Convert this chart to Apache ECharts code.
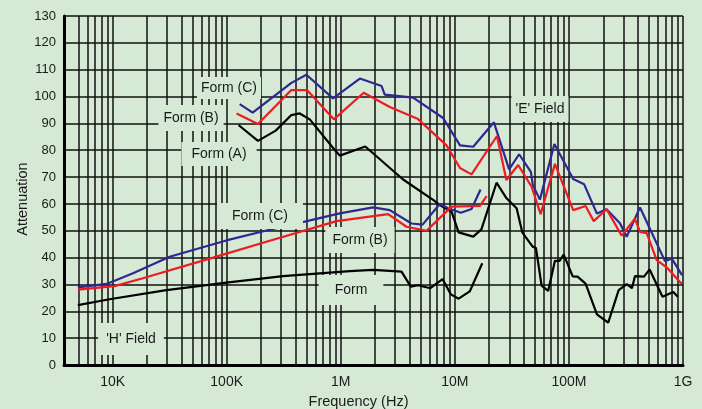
<!DOCTYPE html>
<html>
<head>
<meta charset="utf-8">
<script src="https://cdn.jsdelivr.net/npm/echarts@6/dist/echarts.min.js"></script>
<style>
html,body{margin:0;padding:0;background:#d6e9d5;}
#c{width:702px;height:409px;}
</style>
</head>
<body>
<div id="c"></div>
<script>
// ---- data (frequency in Hz, attenuation in dB) ----
const tickLabels = ['10K','100K','1M','10M','100M','1G'];
const tickExponents = [4,5,6,7,8,9];
const minorMultipliers = [2,3,4,5,6,7,8,9];

const formC_E_freq = [1.30e5,1.69e5,3.69e5,5.0e5,8.56e5,1.47e6,2.28e6,2.43e6,4.31e6,7.89e6,1.11e7,1.45e7,2.20e7,2.99e7,3.66e7,4.64e7,4.83e7,5.57e7,7.46e7,1.09e8,1.36e8,1.76e8,2.14e8,2.80e8,3.21e8,4.20e8,6.95e8,7.96e8,9.80e8];
const formC_E_att  = [97.2,94.0,105.1,108.1,99.3,106.7,103.9,100.7,99.6,92.0,81.8,81.3,90.4,72.9,78.5,71.9,67.0,61.6,82.3,69.3,67.3,56.4,58.0,52.8,47.8,58.7,38.7,39.7,33.5];

const formB_E_freq = [1.22e5,1.88e5,3.69e5,5.06e5,8.69e5,1.59e6,2.69e6,4.76e6,8.45e6,1.11e7,1.40e7,2.34e7,2.83e7,3.59e7,4.71e7,5.65e7,7.54e7,1.09e8,1.40e8,1.65e8,2.14e8,2.90e8,3.79e8,4.20e8,4.81e8,5.88e8,7.19e8,9.75e8];
const formB_E_att  = [93.7,89.8,102.4,102.4,91.5,101.4,96.1,91.6,81.8,73.4,71.0,85.3,68.9,74.5,66.4,56.2,74.9,57.7,59.2,53.6,58.0,48.2,54.5,49.6,49.1,39.1,36.4,30.2];

const formA_E_freq = [1.27e5,1.88e5,2.69e5,3.69e5,4.37e5,5.35e5,8.86e5,9.80e5,1.64e6,3.52e6,6.45e6,7.38e6,9.36e6,1.08e7,1.45e7,1.71e7,2.32e7,2.84e7,3.48e7,3.91e7,4.81e7,5.14e7,5.76e7,6.58e7,7.54e7,8.28e7,9.0e7,1.08e8,1.19e8,1.40e8,1.76e8,2.21e8,2.73e8,3.21e8,3.57e8,3.79e8,4.55e8,5.10e8,6.61e8,8.22e8,9.0e8];
const formA_E_att  = [89.4,83.5,87.3,93.1,93.7,91.5,80.1,78.0,81.4,69.1,61.5,59.6,57.1,49.4,47.8,50.5,67.9,62.1,58.4,49.3,44.1,43.6,29.6,27.6,38.8,38.8,41.1,33.0,32.9,30.3,18.9,15.8,27.9,30.1,28.6,33.1,32.9,35.6,25.4,27.2,25.4];

const formC_H_freq = [4.96e3,8.86e3,1.51e4,3.16e4,9.94e4,2.23e5,4.83e5,9.80e5,1.92e6,2.69e6,4.17e6,5.21e6,7.38e6,8.73e6,1.13e7,1.40e7,1.68e7];
const formC_H_att  = [28.9,30.2,34.2,40.3,46.4,50.1,53.4,56.5,58.7,57.7,52.7,52.3,60.0,58.4,56.7,58.1,65.4];

const formB_H_freq = [4.96e3,1.04e4,1.84e4,7.59e4,2.23e5,9.17e5,2.60e6,3.77e6,5.65e6,9.36e6,1.66e7,1.90e7];
const formB_H_att  = [28.1,29.4,32.3,40.0,45.9,53.6,56.2,51.5,50.0,59.0,59.3,62.9];

const form_H_freq = [4.96e3,9.4e3,2.96e4,9.94e4,3.12e5,1.20e6,1.92e6,3.41e6,4.11e6,4.76e6,6.10e6,7.80e6,9.23e6,1.08e7,1.35e7,1.74e7];
const form_H_att  = [22.3,24.5,27.9,30.7,33.1,35.0,35.4,34.8,29.2,29.7,28.6,32.0,26.3,24.7,27.4,37.9];

// ---- build ----
const zip = (f, a) => f.map((v, i) => [v, a[i]]);
const BLUE = '#2f2791', RED = '#ec1c24', BLACK = '#000000';
const BG = '#d6e9d5';
const FONT = '"Liberation Sans", Arial, sans-serif';

const minorLines = [];
for (let e = 3; e <= 8; e++) {
  minorMultipliers.forEach(m => {
    const v = m * Math.pow(10, e);
    if (v > 4500 && v < 1e9) minorLines.push({ xAxis: v });
  });
}

function lineSeries(name, f, a, color) {
  return {
    name, type: 'line', data: zip(f, a), showSymbol: false, symbol: 'none',
    lineStyle: { color, width: 2.2 }, z: 5, animation: false, silent: true
  };
}

function label(text, x, y, pad) {
  return {
    type: 'text', x, y, z: 100, silent: true,
    style: {
      text, fill: '#1a1a1a', font: '14px ' + FONT,
      align: 'center', verticalAlign: 'middle',
      backgroundColor: BG, padding: pad
    }
  };
}

const chart = echarts.init(document.getElementById('c'), null, { renderer: 'canvas' });
chart.setOption({
  backgroundColor: BG,
  animation: false,
  grid: { left: 64, right: 19, top: 16, bottom: 44, containLabel: false, outerBoundsMode: 'none' },
  xAxis: {
    type: 'log', logBase: 10, min: 3750, max: 1e9, splitNumber: 5,
    name: 'Frequency (Hz)', nameLocation: 'middle', nameGap: 29, nameMoveOverlap: false,
    nameTextStyle: { color: '#1a1a1a', fontSize: 14.5, fontFamily: FONT, padding: [0, 30, 0, 0] },
    axisLine: { show: true, onZero: false, lineStyle: { color: '#000', width: 3 } },
    axisTick: { show: false },
    axisLabel: {
      showMinLabel: false, margin: 10, color: '#1a1a1a', fontSize: 14, fontFamily: FONT,
      formatter: v => {
        const l = Math.log10(v), e = Math.round(l);
        if (Math.abs(l - e) > 0.01) return '';
        const i = tickExponents.indexOf(e);
        return i >= 0 ? tickLabels[i] : '';
      }
    },
    splitLine: { show: true, lineStyle: { color: '#111', width: 1.5 } }
  },
  yAxis: {
    type: 'value', min: 0, max: 130, interval: 10,
    name: 'Attenuation', nameLocation: 'middle', nameGap: 34, nameMoveOverlap: false,
    nameTextStyle: { color: '#1a1a1a', fontSize: 14.5, fontFamily: FONT, padding: [0, 17, 0, 0] },
    axisLine: { show: true, lineStyle: { color: '#000', width: 3 } },
    axisTick: { show: false },
    axisLabel: { margin: 8, color: '#1a1a1a', fontSize: 13, fontFamily: FONT },
    splitLine: { show: true, lineStyle: { color: '#111', width: 1.5 } }
  },
  series: [
    {
      name: 'grid', type: 'line', data: [], z: 1, silent: true, animation: false,
      markLine: {
        silent: true, animation: false, symbol: ['none', 'none'],
        label: { show: false },
        lineStyle: { color: '#111', width: 1.5, type: 'solid' },
        emphasis: { disabled: true },
        data: minorLines
      }
    },
    lineSeries('Form (C) E', formC_E_freq, formC_E_att, BLUE),
    lineSeries('Form (B) E', formB_E_freq, formB_E_att, RED),
    lineSeries('Form (A) E', formA_E_freq, formA_E_att, BLACK),
    lineSeries('Form (C) H', formC_H_freq, formC_H_att, BLUE),
    lineSeries('Form (B) H', formB_H_freq, formB_H_att, RED),
    lineSeries('Form H', form_H_freq, form_H_att, BLACK)
  ],
  graphic: [
    label('Form (C)', 229, 88, [4, 4]),
    label('Form (B)', 191, 118, [6, 5]),
    label('Form (A)', 219, 154, [5, 10]),
    label("'E' Field", 540, 109, [6, 4]),
    label('Form (C)', 260, 216, [6, 15]),
    label('Form (B)', 360, 240, [6, 7]),
    label('Form', 351, 290, [8, 16]),
    label("'H' Field", 131, 339, [9, 8])
  ]
});
</script>
</body>
</html>
